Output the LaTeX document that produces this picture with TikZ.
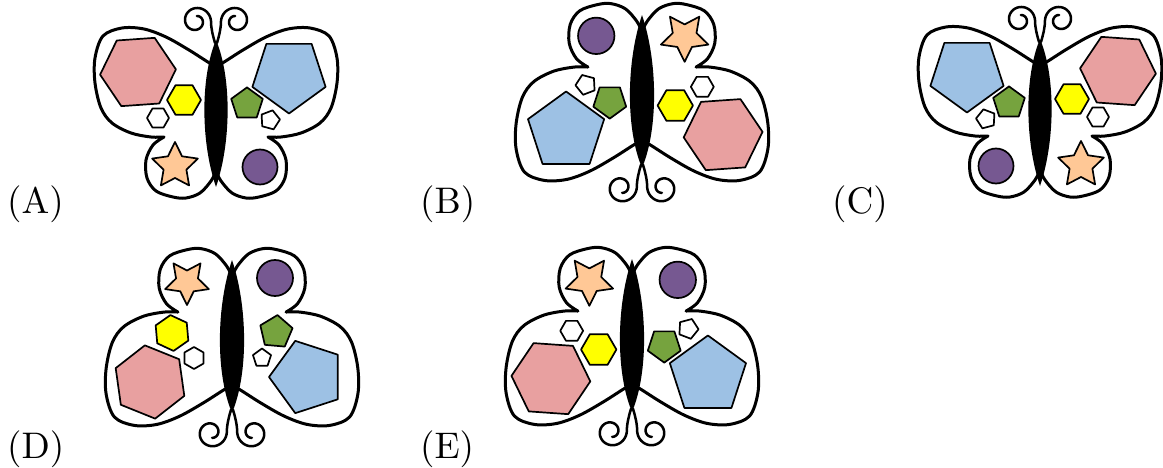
\documentclass[tikz,border=0pt]{standalone}
\usepackage{tikz}
\definecolor{pinkc}{RGB}{232,160,160}
\definecolor{bluec}{RGB}{157,193,228}
\definecolor{yellowc}{RGB}{255,255,0}
\definecolor{greenc}{RGB}{118,163,62}
\definecolor{purplec}{RGB}{118,88,145}
\definecolor{peachc}{RGB}{255,200,150}
\font\lblfont=cmr10 at 37pt
\tikzset{
 wing/.style={line width=3pt, line join=round, line cap=round, draw=black, fill=white},
 ant/.style={line width=2.5pt, line cap=round, draw=black},
 shp/.style={line width=1.7pt, line join=round, draw=black},
 lbl/.style={inner sep=0pt, anchor=base west, font=\lblfont}
}
\newcommand\hexg[4]{\path[shp,#1,shift={(#2)}] (#4:#3) -- ({#4+60}:#3) -- ({#4+120}:#3) -- ({#4+180}:#3) -- ({#4+240}:#3) -- ({#4+300}:#3) -- cycle;}
\newcommand\pentg[4]{\path[shp,#1,shift={(#2)}] (#4:#3) -- ({#4+72}:#3) -- ({#4+144}:#3) -- ({#4+216}:#3) -- ({#4+288}:#3) -- cycle;}
\newcommand\starg[4]{\path[shp,#1,shift={(#2)}] (#4:#3) -- ({#4+36}:{0.5*#3}) -- ({#4+72}:#3) -- ({#4+108}:{0.5*#3}) -- ({#4+144}:#3) -- ({#4+180}:{0.5*#3}) -- ({#4+216}:#3) -- ({#4+252}:{0.5*#3}) -- ({#4+288}:#3) -- ({#4+324}:{0.5*#3}) -- cycle;}
\newcommand\bflyframe{%
 \foreach \s in {1,-1}{
  \begin{scope}[xscale=\s]
   \path[wing] plot[smooth,tension=0.55] coordinates {(0,-50) (3,-48) (27,-63) (50,-76) (72,-84) (94,-85) (113,-77) (121,-55) (121,-30) (115,-5) (104,10) (85,20) (65,24) (52,24)}
     -- plot[smooth,tension=0.55] coordinates {(52,24) (63,32) (70,47) (69,65) (60,78) (43,84) (30,85) (16,80) (5,68) (0,58)} -- cycle;
   \draw[ant] (1,-70) .. controls (3,-77) and (5,-84) .. (5,-92)
     -- plot[domain=180:620, samples=60, smooth] ({20+(15-(\x-180)*10/440)*cos(\x)}, {-92+(15-(\x-180)*10/440)*sin(\x)});
  \end{scope}
 }
 \fill[black] (0,-73) .. controls (16,-35) and (15,30) .. (0,74) .. controls (-15,30) and (-16,-35) .. cycle;
}
\newcommand\shapesA{%
 \hexg{fill=pinkc}{-78,-41}{38}{-4}
 \hexg{fill=yellowc}{-32,-13}{17}{0}
 \hexg{fill=white}{-58,5}{11}{0}
 \starg{fill=peachc}{-41,53}{24}{-90}
 \pentg{fill=bluec}{73,-38}{38.5}{90}
 \pentg{fill=greenc}{31,-9}{16.6}{-90}
 \pentg{fill=white}{54,7}{10}{-75}
 \path[shp,fill=purplec] (44,54) circle (17.5);
}
\begin{document}
\begin{tikzpicture}[x=1pt,y=-1pt]
\useasboundingbox[fill=white] (0,0) rectangle (1163,468);
% A
\begin{scope}[shift={(216,113)}]
 \bflyframe \shapesA
\end{scope}
% B
\begin{scope}[shift={(642,92)},xscale=-1.04,yscale=-1.04]
 \bflyframe \shapesA
\end{scope}
% C
\begin{scope}[shift={(1040,112)},xscale=-1]
 \bflyframe \shapesA
\end{scope}
% D
\begin{scope}[shift={(232,337)},xscale=1.04,yscale=-1.04]
 \bflyframe
\end{scope}
\begin{scope}[shift={(232,337)}]
 \starg{fill=peachc}{-45,-55}{23}{90}
 \path[shp,fill=purplec] (43,-59) circle (18);
 \hexg{fill=yellowc}{-60,-4}{18}{-95}
 \hexg{fill=white}{-38,21}{11}{-90}
 \hexg{fill=pinkc}{-82,45}{37}{-98}
 \pentg{fill=greenc}{44,-5}{17}{-85}
 \pentg{fill=white}{30,21}{9.5}{-90}
 \pentg{fill=bluec}{75,40}{38}{180}
\end{scope}
% E
\begin{scope}[shift={(632,336)},xscale=1.04,yscale=-1.04]
 \bflyframe \shapesA
\end{scope}
% labels
\node[lbl] (lblA) at (7,214) {(A)};
\node[lbl] (lblB) at (420,214) {(B)};
\node[lbl] (lblC) at (832,214) {(C)};
\node[lbl] (lblD) at (7,458) {(D)};
\node[lbl] (lblE) at (420,458) {(E)};
\end{tikzpicture}
\end{document}
